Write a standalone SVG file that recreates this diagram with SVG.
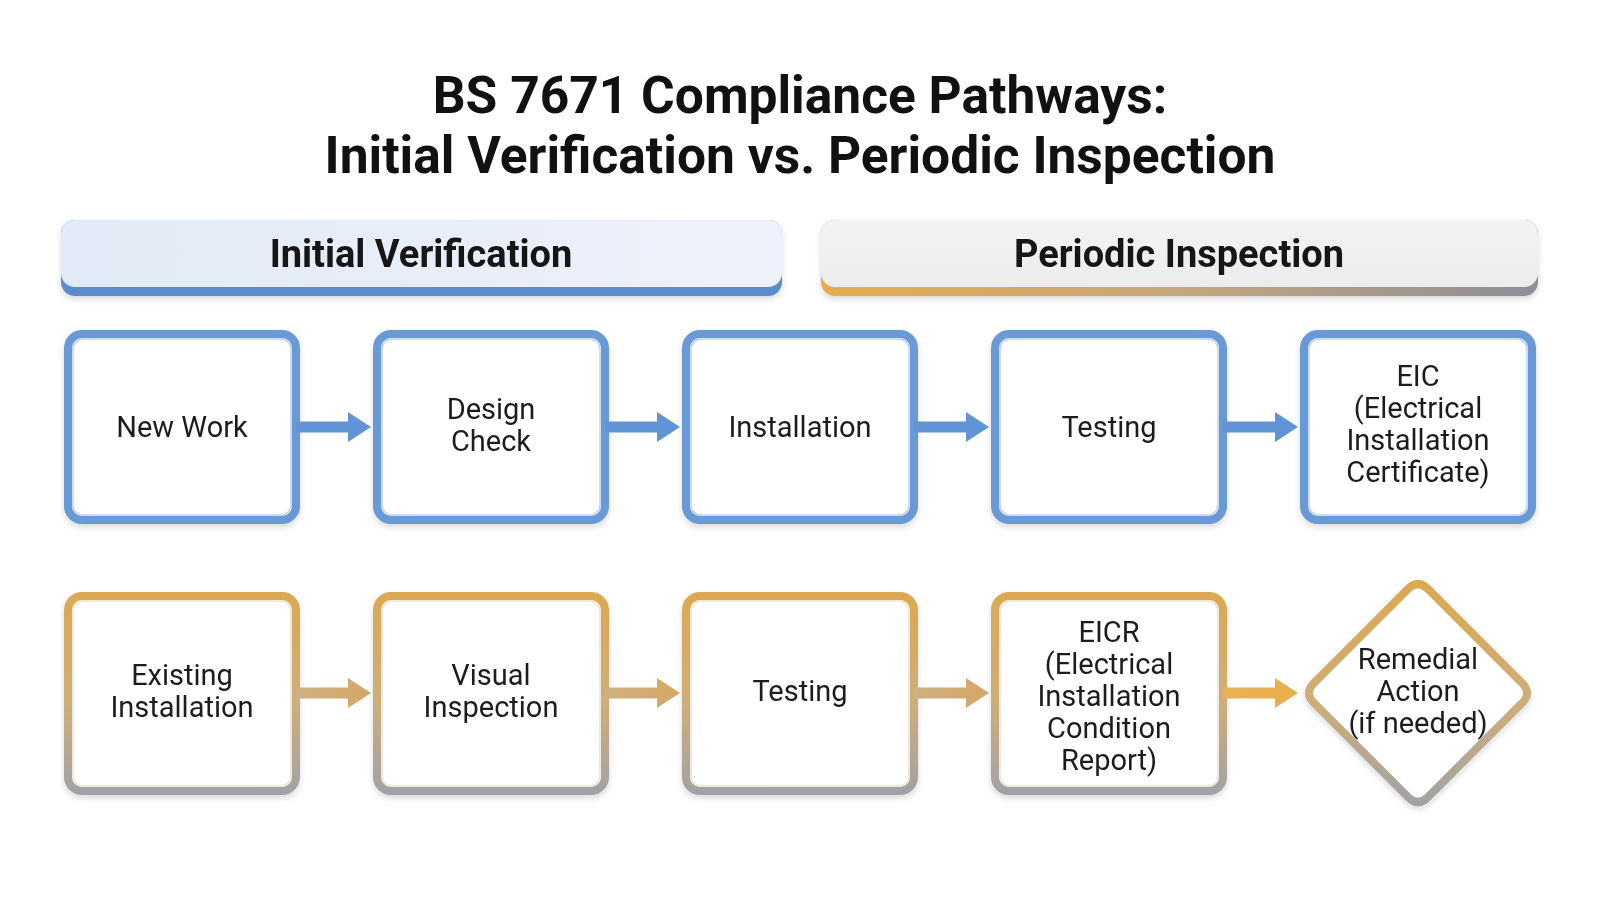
<svg xmlns="http://www.w3.org/2000/svg" width="1600" height="900" viewBox="0 0 1600 900">
  <defs>
    <style>
      .title { font-family: Roboto, "Liberation Sans", Arial, sans-serif; font-weight: 700; font-size: 51.5px; fill: #111111; text-anchor: middle; }
      .hdr { font-family: Roboto, "Liberation Sans", Arial, sans-serif; font-weight: 700; font-size: 38px; fill: #151515; text-anchor: middle; }
      .lbl { font-family: Roboto, "Liberation Sans", Arial, sans-serif; font-weight: 400; font-size: 29px; fill: #1e1e1e; text-anchor: middle; }
      .box-blue { fill: #ffffff; stroke: #6a9ad5; stroke-width: 8; }
      .inner-blue { fill: none; stroke: #bcd1ef; stroke-width: 1.5; }
      .box-gold { fill: #ffffff; stroke: url(#goldStroke); stroke-width: 8; }
      .inner-gold { fill: none; stroke: #ece2cf; stroke-width: 1.5; }
      .arr-blue { fill: #6094d4; }
      .arr-gold { fill: url(#goldArrow); }
      .arr-orange { fill: url(#orangeArrow); }
    </style>
    <linearGradient id="goldStroke" x1="0" y1="0" x2="0" y2="1">
      <stop offset="0" stop-color="#dba952"/>
      <stop offset="0.55" stop-color="#cdae7a"/>
      <stop offset="1" stop-color="#a2a2a6"/>
    </linearGradient>
    <linearGradient id="goldArrow" x1="0" y1="0" x2="1" y2="0">
      <stop offset="0" stop-color="#ceb083"/>
      <stop offset="1" stop-color="#d4a866"/>
    </linearGradient>
    <linearGradient id="orangeArrow" x1="0" y1="0" x2="1" y2="0">
      <stop offset="0" stop-color="#e8b255"/>
      <stop offset="1" stop-color="#e9ae4c"/>
    </linearGradient>
    <linearGradient id="hdrBlueFill" x1="0" y1="0" x2="1" y2="0">
      <stop offset="0" stop-color="#e1eaf6"/>
      <stop offset="1" stop-color="#eef2fb"/>
    </linearGradient>
    <linearGradient id="hdrGrayFill" x1="0" y1="0" x2="0" y2="1">
      <stop offset="0" stop-color="#f3f3f3"/>
      <stop offset="1" stop-color="#ececec"/>
    </linearGradient>
    <linearGradient id="hdrGoldStrip" x1="0" y1="0" x2="1" y2="0">
      <stop offset="0" stop-color="#e6ac4c"/>
      <stop offset="0.5" stop-color="#c4a77c"/>
      <stop offset="1" stop-color="#8c8e99"/>
    </linearGradient>
    <filter id="shadow" x="-10%" y="-10%" width="120%" height="130%">
      <feDropShadow dx="0" dy="3" stdDeviation="3" flood-color="#000000" flood-opacity="0.15"/>
    </filter>
    <path id="arrowShape" d="M0,-5.5 L52,-5.5 L52,-15 L75,0 L52,15 L52,5.5 L0,5.5 Z"/>
  </defs>

  <rect x="0" y="0" width="1600" height="900" fill="#ffffff"/>

  <g id="title">
    <text class="title" x="800" y="113">BS 7671 Compliance Pathways:</text>
    <text class="title" x="800" y="173">Initial Verification vs. Periodic Inspection</text>
  </g>

  <g id="header-initial" filter="url(#shadow)">
    <rect x="61" y="220" width="721" height="76" rx="14" fill="#5a8ccf"/>
    <rect x="61" y="220" width="721" height="67" rx="14" fill="url(#hdrBlueFill)"/>
    <text class="hdr" x="421" y="267">Initial Verification</text>
  </g>

  <g id="header-periodic" filter="url(#shadow)">
    <rect x="821" y="220" width="717" height="76" rx="14" fill="url(#hdrGoldStrip)"/>
    <rect x="821" y="220" width="717" height="67" rx="14" fill="url(#hdrGrayFill)"/>
    <text class="hdr" x="1179" y="267">Periodic Inspection</text>
  </g>

  <!-- Top row: Initial Verification -->
  <g id="node-new-work" filter="url(#shadow)">
    <rect class="box-blue" x="68" y="334" width="228" height="186" rx="14"/>
    <rect class="inner-blue" x="73" y="339" width="218" height="176" rx="10"/>
    <text class="lbl" x="182" y="437">New Work</text>
  </g>
  <g id="node-design-check" filter="url(#shadow)">
    <rect class="box-blue" x="377" y="334" width="228" height="186" rx="14"/>
    <rect class="inner-blue" x="382" y="339" width="218" height="176" rx="10"/>
    <text class="lbl" x="491" y="419">Design</text>
    <text class="lbl" x="491" y="451">Check</text>
  </g>
  <g id="node-installation" filter="url(#shadow)">
    <rect class="box-blue" x="686" y="334" width="228" height="186" rx="14"/>
    <rect class="inner-blue" x="691" y="339" width="218" height="176" rx="10"/>
    <text class="lbl" x="800" y="437">Installation</text>
  </g>
  <g id="node-testing-iv" filter="url(#shadow)">
    <rect class="box-blue" x="995" y="334" width="228" height="186" rx="14"/>
    <rect class="inner-blue" x="1000" y="339" width="218" height="176" rx="10"/>
    <text class="lbl" x="1109" y="437">Testing</text>
  </g>
  <g id="node-eic" filter="url(#shadow)">
    <rect class="box-blue" x="1304" y="334" width="228" height="186" rx="14"/>
    <rect class="inner-blue" x="1309" y="339" width="218" height="176" rx="10"/>
    <text class="lbl" x="1418" y="386">EIC</text>
    <text class="lbl" x="1418" y="418">(Electrical</text>
    <text class="lbl" x="1418" y="450">Installation</text>
    <text class="lbl" x="1418" y="482">Certificate)</text>
  </g>

  <!-- Bottom row: Periodic Inspection -->
  <g id="node-existing-installation" filter="url(#shadow)">
    <rect class="box-gold" x="68" y="596" width="228" height="195" rx="14"/>
    <rect class="inner-gold" x="73" y="601" width="218" height="185" rx="10"/>
    <text class="lbl" x="182" y="685">Existing</text>
    <text class="lbl" x="182" y="717">Installation</text>
  </g>
  <g id="node-visual-inspection" filter="url(#shadow)">
    <rect class="box-gold" x="377" y="596" width="228" height="195" rx="14"/>
    <rect class="inner-gold" x="382" y="601" width="218" height="185" rx="10"/>
    <text class="lbl" x="491" y="685">Visual</text>
    <text class="lbl" x="491" y="717">Inspection</text>
  </g>
  <g id="node-testing-pi" filter="url(#shadow)">
    <rect class="box-gold" x="686" y="596" width="228" height="195" rx="14"/>
    <rect class="inner-gold" x="691" y="601" width="218" height="185" rx="10"/>
    <text class="lbl" x="800" y="701">Testing</text>
  </g>
  <g id="node-eicr" filter="url(#shadow)">
    <rect class="box-gold" x="995" y="596" width="228" height="195" rx="14"/>
    <rect class="inner-gold" x="1000" y="601" width="218" height="185" rx="10"/>
    <text class="lbl" x="1109" y="642">EICR</text>
    <text class="lbl" x="1109" y="674">(Electrical</text>
    <text class="lbl" x="1109" y="706">Installation</text>
    <text class="lbl" x="1109" y="738">Condition</text>
    <text class="lbl" x="1109" y="770">Report)</text>
  </g>
  <g id="node-remedial-action" filter="url(#shadow)">
    <path class="box-gold" d="M1408.1,588.9 Q1418,579 1427.9,588.9 L1522.1,683.1 Q1532,693 1522.1,702.9 L1427.9,797.1 Q1418,807 1408.1,797.1 L1313.9,702.9 Q1304,693 1313.9,683.1 Z"/>
    <text class="lbl" x="1418" y="669">Remedial</text>
    <text class="lbl" x="1418" y="701">Action</text>
    <text class="lbl" x="1418" y="733">(if needed)</text>
  </g>

  <g id="connectors">
    <use href="#arrowShape" class="arr-blue" transform="translate(296,427)"/>
    <use href="#arrowShape" class="arr-blue" transform="translate(605,427)"/>
    <use href="#arrowShape" class="arr-blue" transform="translate(914,427)"/>
    <use href="#arrowShape" class="arr-blue" transform="translate(1223,427)"/>
    <use href="#arrowShape" class="arr-gold" transform="translate(296,693)"/>
    <use href="#arrowShape" class="arr-gold" transform="translate(605,693)"/>
    <use href="#arrowShape" class="arr-gold" transform="translate(914,693)"/>
    <use href="#arrowShape" class="arr-orange" transform="translate(1223,693)"/>
  </g>
</svg>
